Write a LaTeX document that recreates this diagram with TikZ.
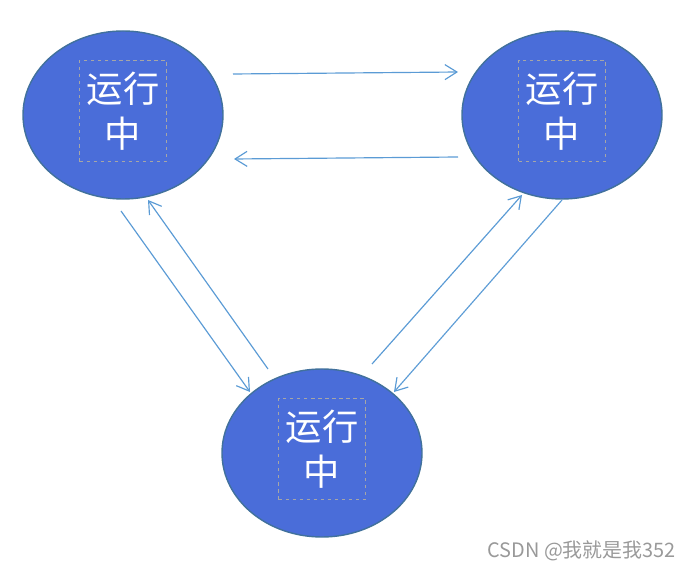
\documentclass[tikz,border=0pt]{standalone}
\usepackage{fontspec}
\newfontfamily\cjk{Noto Sans CJK SC}
\usetikzlibrary{arrows.meta,calc,shapes.geometric}
\definecolor{runfill}{HTML}{4A6DD9}
\definecolor{rundraw}{HTML}{41719C}
\definecolor{linkcol}{HTML}{5B9BD5}

\begin{document}
\begin{tikzpicture}[
  x=0.03cm, y=-0.03cm,
  state/.style={ellipse, fill=runfill, draw=rundraw, line width=1.2pt, minimum width=6cm, minimum height=5.04cm, inner sep=0pt},
  txt/.style={draw=gray!70, dashed, line width=0.6pt, align=center, text=white, minimum width=2.61cm, minimum height=3.03cm, inner sep=0pt, font=\cjk\fontsize{31}{38}\selectfont},
  link/.style={draw=linkcol, line width=1pt},
  >={Straight Barb[length=3.6mm,width=4.5mm]}
]
\useasboundingbox (0,0) rectangle (690,572);

\node[state] (run1) at (123,115) {};
\node[state] (run2) at (562,115) {};
\node[state] (run3) at (322,453) {};

\node[txt] (t1) at ($(run1.center)+(0,-4)$) {运行\\中};
\node[txt] (t2) at ($(run2.center)+(0,-4)$) {运行\\中};
\node[txt] (t3) at ($(run3.center)+(0,-4)$) {运行\\中};

% top pair
\draw[link,->] ($(run1.center)+(110,-41)$) -- ($(run2.center)+(-104,-43)$);
\draw[link,->] ($(run2.center)+(-104,42)$) -- ($(run1.center)+(111,44)$);
% left pair
\draw[link,->] ($(run1.center)+(-2,96)$) -- ($(run3.center)+(-72,-61)$);
\draw[link,->] ($(run3.center)+(-54,-84)$) -- ($(run1.center)+(25,85)$);
% right pair
\draw[link,->] ($(run3.center)+(50,-89)$) -- ($(run2.center)+(-40,80)$);
\draw[link,->] ($(run2.center)+(0,85)$) -- ($(run3.center)+(72,-61)$);

\node[text=gray!80, font=\cjk\fontsize{17}{20}\selectfont, anchor=east, inner sep=0pt] (mark) at (676,551) {CSDN @我就是我352};
\end{tikzpicture}
\end{document}
